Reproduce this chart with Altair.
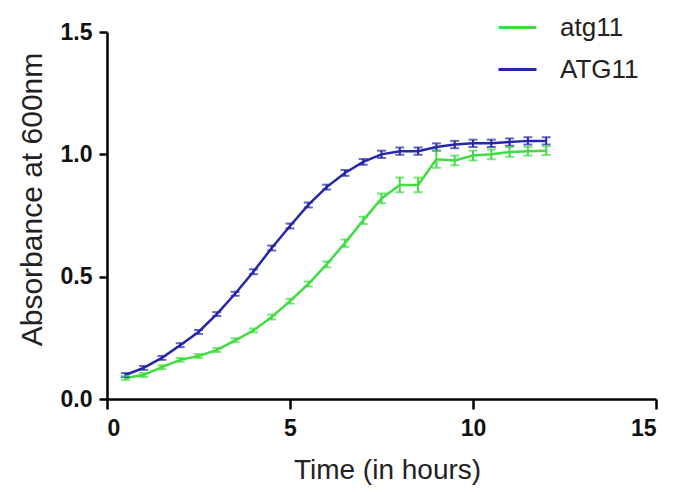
import altair as alt
import pandas as pd

# Sampling times (hours)
time = [0.5, 1.0, 1.5, 2.0, 2.5, 3.0, 3.5, 4.0, 4.5, 5.0, 5.5, 6.0,
        6.5, 7.0, 7.5, 8.0, 8.5, 9.0, 9.5, 10.0, 10.5, 11.0, 11.5, 12.0]

# OD600 means and error (SEM) per strain
atg11_mean = [0.086, 0.098, 0.13, 0.16, 0.176, 0.20, 0.24, 0.28, 0.335, 0.40, 0.47, 0.55,
              0.637, 0.73, 0.82, 0.875, 0.875, 0.98, 0.975, 0.995, 1.00, 1.01, 1.013, 1.015]
atg11_err = [0.008, 0.008, 0.008, 0.008, 0.008, 0.008, 0.008, 0.008, 0.01, 0.01, 0.01, 0.012,
             0.015, 0.015, 0.02, 0.03, 0.03, 0.035, 0.02, 0.02, 0.02, 0.02, 0.018, 0.018]

ATG11_mean = [0.098, 0.127, 0.168, 0.22, 0.274, 0.347, 0.43, 0.52, 0.617, 0.707, 0.793, 0.866,
              0.924, 0.969, 1.00, 1.013, 1.013, 1.03, 1.04, 1.045, 1.045, 1.05, 1.055, 1.055]
ATG11_err = [0.008, 0.008, 0.008, 0.008, 0.008, 0.008, 0.008, 0.01, 0.01, 0.01, 0.01, 0.01,
             0.012, 0.012, 0.015, 0.015, 0.015, 0.015, 0.015, 0.015, 0.015, 0.015, 0.015, 0.015]

strains = ["atg11", "ATG11"]
colors = ["#42dc42", "#2626aa"]

rows = []
for name, means, errs in [("atg11", atg11_mean, atg11_err), ("ATG11", ATG11_mean, ATG11_err)]:
    for t, m, e in zip(time, means, errs):
        rows.append({"time": t, "od": m, "lo": m - e, "hi": m + e, "strain": name})
df = pd.DataFrame(rows)

strain_scale = alt.Scale(domain=strains, range=colors)

x = alt.X("time:Q", title="Time (in hours)",
          scale=alt.Scale(domain=[0, 15], nice=False),
          axis=alt.Axis(values=[0, 5, 10, 15], tickSize=10, labelPadding=8,
                        titleFontSize=28, titleX=280, titleY=79,
                        titleBaseline="alphabetic", titleAlign="center"))
y = alt.Y("od:Q", title="Absorbance at 600nm",
          scale=alt.Scale(domain=[0, 1.5], nice=False),
          axis=alt.Axis(values=[0, 0.5, 1.0, 1.5], format=".1f", tickSize=8, labelPadding=7,
                        titleFontSize=30, titleX=-75, titleY=167, titleAngle=270,
                        titleBaseline="middle", titleAlign="center"))
color = alt.Color("strain:N", scale=strain_scale,
                  legend=alt.Legend(title=None, orient="none", legendX=390, legendY=-25,
                                    symbolType="stroke", symbolSize=1444, symbolStrokeWidth=3,
                                    labelFontSize=26, labelFont="Liberation Sans",
                                    labelColor="#222222", rowPadding=8, labelOffset=22))

base = alt.Chart(df)

lines = base.mark_line(strokeWidth=2.5).encode(x=x, y=y, color=color)

bars = base.mark_rule(strokeWidth=2).encode(
    x="time:Q", y="lo:Q", y2="hi:Q",
    color=alt.Color("strain:N", scale=strain_scale, legend=None))

caps_lo = base.mark_tick(orient="horizontal", size=9, thickness=2).encode(
    x="time:Q", y="lo:Q",
    color=alt.Color("strain:N", scale=strain_scale, legend=None))
caps_hi = base.mark_tick(orient="horizontal", size=9, thickness=2).encode(
    x="time:Q", y="hi:Q",
    color=alt.Color("strain:N", scale=strain_scale, legend=None))

chart = (
    alt.layer(lines, bars, caps_lo, caps_hi)
    .properties(width=549, height=367,
                autosize=alt.AutoSizeParams(type="none"),
                padding={"left": 107, "top": 32, "right": 23, "bottom": 93})
    .configure_view(stroke=None)
    .configure_axis(grid=False, domainColor="black", domainWidth=2.5,
                    tickColor="black", tickWidth=2.5,
                    labelFont="Liberation Sans", labelFontSize=23, labelFontWeight="bold",
                    labelColor="#111111", titleFont="Liberation Sans",
                    titleFontWeight="normal", titleColor="#222222")
)

chart.save("out.html", embed_options={"renderer": "svg", "actions": False})
